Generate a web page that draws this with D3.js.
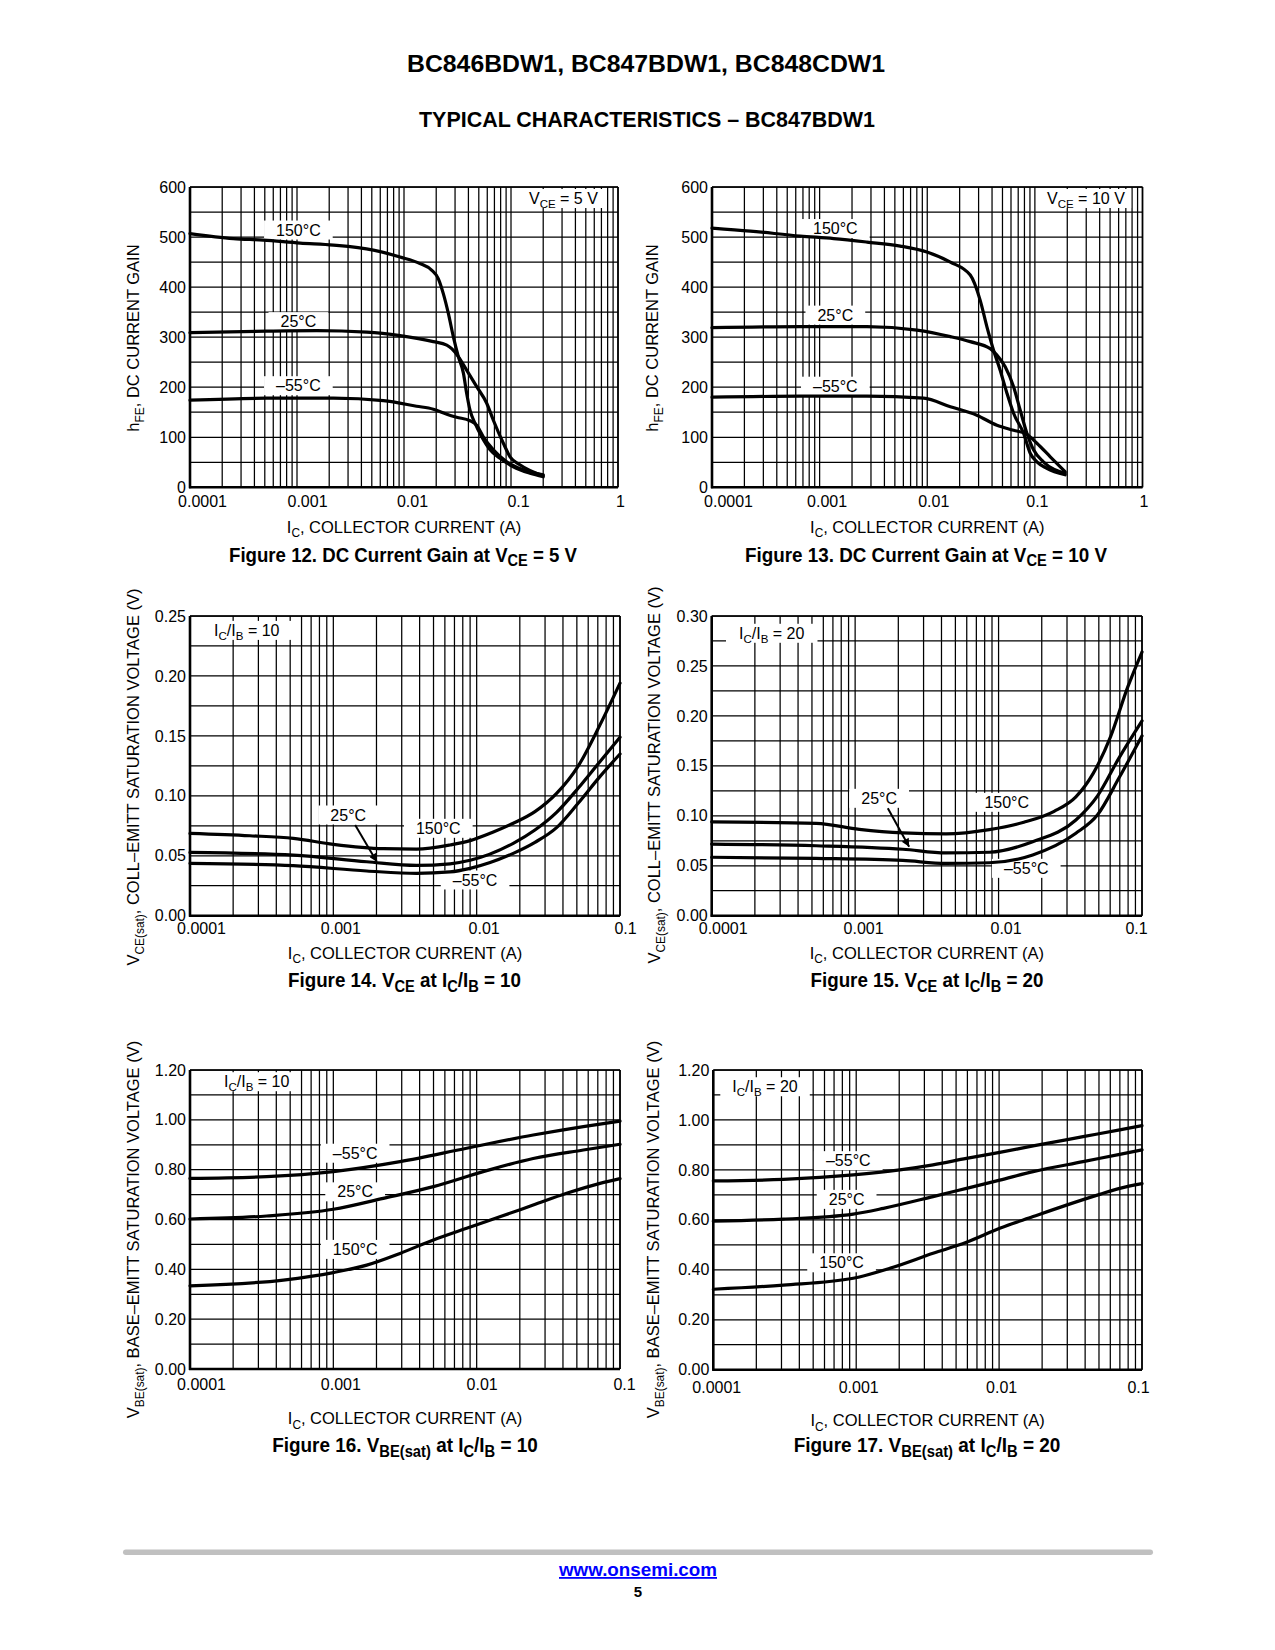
<!DOCTYPE html>
<html><head><meta charset="utf-8">
<script src="https://cdn.jsdelivr.net/npm/d3@7/dist/d3.min.js"></script>
<style>
html,body{margin:0;padding:0;background:#fff;}
svg{display:block;}
text{font-family:"Liberation Sans",Arial,Helvetica,sans-serif;fill:#000;}
</style></head><body>
<svg id="page" width="1275" height="1650"></svg>
<script>
// ---------------- DATA ----------------
const icTicks4 = [1e-4, 1e-3, 1e-2, 1e-1, 1];
const icTicks3 = [1e-4, 1e-3, 1e-2, 1e-1];
const icTickLabels = ["0.0001", "0.001", "0.01", "0.1", "1"];
const hfeTicks = [0, 100, 200, 300, 400, 500, 600];
const hfeTickLabels = ["0", "100", "200", "300", "400", "500", "600"];
const vce10Ticks = [0, 0.05, 0.10, 0.15, 0.20, 0.25];
const vce10TickLabels = ["0.00", "0.05", "0.10", "0.15", "0.20", "0.25"];
const vce20Ticks = [0, 0.05, 0.10, 0.15, 0.20, 0.25, 0.30];
const vce20TickLabels = ["0.00", "0.05", "0.10", "0.15", "0.20", "0.25", "0.30"];
const vbeTicks = [0, 0.2, 0.4, 0.6, 0.8, 1.0, 1.2];
const vbeTickLabels = ["0.00", "0.20", "0.40", "0.60", "0.80", "1.00", "1.20"];
const tempLabels = ["150°C", "25°C", "–55°C"];

// Figure 12: hFE vs IC, VCE = 5 V   [IC (A), hFE]
const hfe5_150 = [[1e-4,507],[2.54e-4,497],[4.84e-4,494],[1.07e-3,488],[2.19e-3,484],[5.17e-3,474],[9.18e-3,460],[1.41e-2,447],[1.81e-2,434],[2.09e-2,417],[2.33e-2,387],[2.6e-2,347],[2.89e-2,301],[3.22e-2,261],[3.59e-2,228],[3.85e-2,188],[4.14e-2,154],[4.61e-2,128],[5.32e-2,101],[6.37e-2,75],[7.89e-2,58],[0.105,41],[0.151,28],[0.2,21]];
const hfe5_25 = [[1e-4,309],[5.21e-4,312],[1.53e-3,313],[4.48e-3,310],[9.18e-3,303],[1.88e-2,291],[2.51e-2,284],[2.79e-2,277],[3.22e-2,261],[3.85e-2,234],[4.78e-2,201],[5.93e-2,168],[6.84e-2,134],[8.48e-2,88],[9.8e-2,61],[0.121,45],[0.2,23]];
const hfe5_m55 = [[1e-4,174],[5.21e-4,178],[2.19e-3,178],[6.41e-3,173],[1.31e-2,162],[1.88e-2,156],[2.51e-2,146],[3.1e-2,140],[4.14e-2,133],[4.78e-2,124],[5.51e-2,101],[6.84e-2,75],[9.12e-2,51],[0.13,35],[0.2,25]];

// Figure 13: hFE vs IC, VCE = 10 V
const hfe10_150 = [[1e-4,518],[2.27e-4,512],[6.6e-4,502],[1.35e-3,497],[2.75e-3,490],[5.61e-3,482],[9.93e-3,470],[1.64e-2,450],[2.51e-2,424],[3.1e-2,374],[3.58e-2,321],[4.13e-2,274],[4.76e-2,234],[5.5e-2,188],[6.34e-2,148],[7.85e-2,108],[9.05e-2,68],[0.1044,51],[0.129,38],[0.191,25]];
const hfe10_25 = [[1e-4,319],[6.6e-4,321],[2.75e-3,321],[8.02e-3,314],[1.64e-2,301],[2.51e-2,291],[3.85e-2,277],[4.44e-2,264],[5.3e-2,241],[6.34e-2,201],[7.31e-2,154],[8.43e-2,108],[9.72e-2,75],[0.12,51],[0.191,28]];
const hfe10_m55 = [[1e-4,180],[6.6e-4,182],[2.75e-3,182],[9.25e-3,178],[1.64e-2,161],[2.89e-2,144],[4.44e-2,124],[6.34e-2,114],[8.43e-2,106],[0.1044,88],[0.139,61],[0.191,31]];

// Figure 14: VCE(sat) vs IC, IC/IB = 10
const vce10_150 = [[1e-4,0.0687],[2.62e-4,0.0667],[5.26e-4,0.0645],[1e-3,0.0595],[2.23e-3,0.0559],[3.81e-3,0.0556],[6.52e-3,0.059],[9e-3,0.0626],[1.27e-2,0.0692],[1.8e-2,0.0771],[2.55e-2,0.0868],[3.61e-2,0.102],[5.12e-2,0.125],[7.24e-2,0.159],[0.1,0.194]];
const vce10_25 = [[1e-4,0.0528],[5.26e-4,0.0506],[1.71e-3,0.045],[3.81e-3,0.042],[6.52e-3,0.0433],[9e-3,0.0462],[1.8e-2,0.0604],[2.55e-2,0.0715],[3.61e-2,0.0862],[5.12e-2,0.1065],[7.24e-2,0.1285],[0.1,0.1488]];
const vce10_m55 = [[1e-4,0.0437],[5.26e-4,0.0417],[1.71e-3,0.0373],[3.81e-3,0.0353],[6.52e-3,0.0365],[9e-3,0.0395],[1.8e-2,0.052],[2.55e-2,0.0612],[3.61e-2,0.0735],[5.12e-2,0.094],[7.24e-2,0.116],[0.1,0.1349]];

// Figure 15: VCE(sat) vs IC, IC/IB = 20
const vce20_150 = [[1e-4,0.094],[5.35e-4,0.0925],[1.07e-3,0.0865],[2.15e-3,0.083],[4.3e-3,0.082],[8.63e-3,0.0862],[1.5e-2,0.0935],[2.44e-2,0.1045],[3.46e-2,0.119],[4.57e-2,0.1425],[6.03e-2,0.179],[7.96e-2,0.229],[0.1,0.264]];
const vce20_25 = [[1e-4,0.0717],[5.35e-4,0.070],[2.15e-3,0.0665],[4.3e-3,0.0628],[8.63e-3,0.0635],[1.73e-2,0.074],[3.46e-2,0.0958],[4.9e-2,0.12],[6.92e-2,0.158],[0.1,0.195]];
const vce20_m55 = [[1e-4,0.0585],[5.35e-4,0.0574],[2.15e-3,0.0553],[4.3e-3,0.0524],[8.63e-3,0.053],[1.73e-2,0.0608],[3.46e-2,0.0825],[4.9e-2,0.101],[6.92e-2,0.138],[0.1,0.18]];

// Figure 16: VBE(sat) vs IC, IC/IB = 10
const vbe10_m55 = [[1e-4,0.765],[3.43e-4,0.772],[1e-3,0.792],[2.92e-3,0.832],[8.51e-3,0.886],[2.48e-2,0.939],[5.55e-2,0.973],[0.1,0.995]];
const vbe10_25 = [[1e-4,0.602],[3.43e-4,0.614],[1e-3,0.641],[2.23e-3,0.685],[4.99e-3,0.732],[1.11e-2,0.792],[2.48e-2,0.845],[5.55e-2,0.879],[0.1,0.902]];
const vbe10_150 = [[1e-4,0.334],[4.48e-4,0.357],[1e-3,0.387],[1.71e-3,0.417],[2.92e-3,0.464],[4.99e-3,0.518],[8.51e-3,0.565],[1.45e-2,0.611],[2.48e-2,0.658],[4.24e-2,0.705],[7.25e-2,0.745],[0.1,0.764]];

// Figure 17: VBE(sat) vs IC, IC/IB = 20
const vbe20_m55 = [[1e-4,0.756],[3.09e-4,0.762],[9.53e-4,0.78],[2.02e-3,0.80],[3.45e-3,0.82],[5.91e-3,0.846],[1.01e-2,0.87],[1.73e-2,0.896],[3.87e-2,0.933],[6.98e-2,0.96],[0.1,0.977]];
const vbe20_25 = [[1e-4,0.595],[3.09e-4,0.603],[9.53e-4,0.623],[1.55e-3,0.646],[3.45e-3,0.693],[5.91e-3,0.726],[1.01e-2,0.759],[1.73e-2,0.793],[3.87e-2,0.833],[6.98e-2,0.862],[0.1,0.88]];
const vbe20_150 = [[1e-4,0.322],[3.09e-4,0.339],[9.53e-4,0.366],[1.72e-3,0.406],[3.45e-3,0.466],[5.91e-3,0.51],[1.01e-2,0.566],[1.73e-2,0.613],[2.96e-2,0.659],[5.06e-2,0.702],[6.98e-2,0.726],[0.1,0.745]];

// ---------------- LAYOUT ----------------
const SUB = true;
const xTitleParts = [["I"],["C",SUB],[", COLLECTOR CURRENT (A)"]];
const figs = [
  { x0:190, x1:618, y0:187, y1:487.3, xmax:1, ymax:600, step:50,
    yTicks:hfeTicks, yLabels:hfeTickLabels, xTicks:icTicks4, xdx:[12,10,8,7,2], xBase:19.5,
    series:[hfe5_150, hfe5_25, hfe5_m55],
    labels:[[1.03e-3,514,0],[1.03e-3,331,1],[1.03e-3,203,2]],
    cond:{x:0.309, y:577, parts:[["V"],["CE",SUB],[" = 5 V"]], pad:6},
    yTitle:[["h"],["FE",SUB],[", DC CURRENT GAIN"]], yTitleX:139.3, yTitleY:338,
    xTitleY:532.5,
    caption:[["Figure 12. DC Current Gain at V"],["CE",SUB],[" = 5 V"]], capX:403, capY:561.5, capW:348 },
  { x0:712, x1:1142.5, y0:187, y1:487.3, xmax:1, ymax:600, step:50,
    yTicks:hfeTicks, yLabels:hfeTickLabels, xTicks:icTicks4, xdx:[16,7,6,2,1], xBase:19.5,
    series:[hfe10_150, hfe10_25, hfe10_m55],
    labels:[[1.4e-3,517,0],[1.4e-3,344,1],[1.4e-3,202,2]],
    cond:{x:0.298, y:577, parts:[["V"],["CE",SUB],[" = 10 V"]], pad:6},
    yTitle:[["h"],["FE",SUB],[", DC CURRENT GAIN"]], yTitleX:658.3, yTitleY:338,
    xTitleY:532.5,
    caption:[["Figure 13. DC Current Gain at V"],["CE",SUB],[" = 10 V"]], capX:926, capY:561.5, capW:362 },
  { x0:190, x1:620, y0:616, y1:915.7, xmax:0.1, ymax:0.25, step:0.025,
    yTicks:vce10Ticks, yLabels:vce10TickLabels, xTicks:icTicks3, xdx:[11,7,7,5], xBase:18.8,
    series:[vce10_150, vce10_25, vce10_m55],
    labels:[[5.4e-3,0.0729,0],[1.27e-3,0.084,1],[9.75e-3,0.0298,2]],
    arrow:[[1.42e-3,0.0756],[2.01e-3,0.045]],
    cond:{x:2.49e-4, y:0.238, parts:[["I"],["C",SUB],["/I"],["B",SUB],[" = 10"]], pad:13},
    yTitle:[["V"],["CE(sat)",SUB],[", COLL–EMITT SATURATION VOLTAGE (V)"]], yTitleX:139.3, yTitleY:777,
    xTitleY:958.7,
    caption:[["Figure 14. V"],["CE",SUB],[" at I"],["C",SUB],["/I"],["B",SUB],[" = 10"]], capX:404.5, capY:987, capW:233 },
  { x0:711.7, x1:1142, y0:616, y1:915.7, xmax:0.1, ymax:0.30, step:0.025,
    yTicks:vce20Ticks, yLabels:vce20TickLabels, xTicks:icTicks3, xdx:[11,8,7,-6], xBase:17.9,
    series:[vce20_150, vce20_25, vce20_m55],
    labels:[[1.14e-2,0.1135,0],[1.47e-3,0.1175,1],[1.56e-2,0.0474,2]],
    arrow:[[1.69e-3,0.1075],[2.38e-3,0.069]],
    cond:{x:2.62e-4, y:0.2827, parts:[["I"],["C",SUB],["/I"],["B",SUB],[" = 20"]], pad:13},
    yTitle:[["V"],["CE(sat)",SUB],[", COLL–EMITT SATURATION VOLTAGE (V)"]], yTitleX:660, yTitleY:775,
    xTitleY:958.7,
    caption:[["Figure 15. V"],["CE",SUB],[" at I"],["C",SUB],["/I"],["B",SUB],[" = 20"]], capX:927, capY:987, capW:233 },
  { x0:190, x1:620, y0:1070, y1:1369, xmax:0.1, ymax:1.2, step:0.1,
    yTicks:vbeTicks, yLabels:vbeTickLabels, xTicks:icTicks3, xdx:[11,7,5,4], xBase:21.3,
    series:[vbe10_150, vbe10_25, vbe10_m55],
    labels:[[1.42e-3,0.48,0],[1.42e-3,0.711,1],[1.42e-3,0.866,2]],
    cond:{x:2.92e-4, y:1.153, parts:[["I"],["C",SUB],["/I"],["B",SUB],[" = 10"]], pad:4},
    yTitle:[["V"],["BE(sat)",SUB],[", BASE–EMITT SATURATION VOLTAGE (V)"]], yTitleX:139.3, yTitleY:1229.5,
    xTitleY:1424,
    caption:[["Figure 16. V"],["BE(sat)",SUB],[" at I"],["C",SUB],["/I"],["B",SUB],[" = 10"]], capX:405, capY:1452, capW:265.6 },
  { x0:713.3, x1:1142, y0:1070, y1:1369.7, xmax:0.1, ymax:1.2, step:0.1,
    yTicks:vbeTicks, yLabels:vbeTickLabels, xTicks:icTicks3, xdx:[3,2,2,-4], xBase:23.8,
    series:[vbe20_150, vbe20_25, vbe20_m55],
    labels:[[7.9e-4,0.428,0],[8.57e-4,0.682,1],[8.8e-4,0.837,2]],
    cond:{x:2.3e-4, y:1.133, parts:[["I"],["C",SUB],["/I"],["B",SUB],[" = 20"]], pad:12},
    yTitle:[["V"],["BE(sat)",SUB],[", BASE–EMITT SATURATION VOLTAGE (V)"]], yTitleX:659.3, yTitleY:1229.5,
    xTitleY:1426,
    caption:[["Figure 17. V"],["BE(sat)",SUB],[" at I"],["C",SUB],["/I"],["B",SUB],[" = 20"]], capX:927, capY:1452, capW:266.7 }
];

// ---------------- DRAW ----------------
const svg = d3.select("#page");
svg.append("rect").attr("width",1275).attr("height",1650).attr("fill","#fff");
svg.append("defs").append("marker")
  .attr("id","arr").attr("viewBox","0 0 10 10").attr("refX",10).attr("refY",5)
  .attr("markerWidth",11).attr("markerHeight",8).attr("markerUnits","userSpaceOnUse").attr("orient","auto")
  .append("path").attr("d","M0,0 L10,5 L0,10 Z").attr("fill","#000");

function rich(sel, parts, size, subScale, subShift, weight) {
  let shifted = 0;
  parts.forEach(p => {
    const t = sel.append("tspan").text(p[0]);
    if (weight) t.attr("font-weight", weight);
    if (p[1]) {
      t.attr("font-size", size * subScale);
      if (!shifted) { t.attr("dy", subShift); shifted = subShift; }
    } else {
      t.attr("font-size", size);
      if (shifted) { t.attr("dy", -shifted); shifted = 0; }
    }
  });
  return sel;
}

// Page titles
svg.append("text").attr("x",646).attr("y",72.3).attr("text-anchor","middle")
  .attr("font-size",24).attr("font-weight","bold")
  .attr("textLength",478).attr("lengthAdjust","spacingAndGlyphs")
  .text("BC846BDW1, BC847BDW1, BC848CDW1");
svg.append("text").attr("x",647).attr("y",127).attr("text-anchor","middle")
  .attr("font-size",22).attr("font-weight","bold")
  .attr("textLength",456).attr("lengthAdjust","spacingAndGlyphs")
  .text("TYPICAL CHARACTERISTICS – BC847BDW1");

figs.forEach(f => {
  const x = d3.scaleLog().domain([1e-4, f.xmax]).range([f.x0, f.x1]);
  const y = d3.scaleLinear().domain([0, f.ymax]).range([f.y1, f.y0]);
  const g = svg.append("g");

  // grid
  const grid = g.append("g").attr("stroke","#000").attr("stroke-width",1.25).attr("fill","none");
  grid.selectAll("line.v").data(x.ticks()).join("line").attr("class","v")
    .attr("x1", d => x(d)).attr("x2", d => x(d)).attr("y1", f.y0).attr("y2", f.y1);
  const nH = Math.round(f.ymax / f.step);
  grid.selectAll("line.h").data(d3.range(0, nH + 1).map(i => i * f.step)).join("line").attr("class","h")
    .attr("x1", f.x0).attr("x2", f.x1).attr("y1", d => y(d)).attr("y2", d => y(d));

  const boxG = g.append("g");
  const curveG = g.append("g");
  const textG = g.append("g");

  const addLabel = (cx, cy, parts, size, pad) => {
    const t = textG.append("text").attr("x", cx).attr("y", cy).attr("dy","0.35em")
      .attr("text-anchor","middle");
    rich(t, parts, size, 0.72, 4);
    const bb = t.node().getBBox();
    boxG.append("rect").attr("x", bb.x - pad).attr("y", cy - 9.5)
      .attr("width", bb.width + 2 * pad).attr("height", 19).attr("fill","#fff");
  };
  f.labels.forEach(l => addLabel(x(l[0]), y(l[1]), [[tempLabels[l[2]]]], 16, 12));
  addLabel(x(f.cond.x), y(f.cond.y), f.cond.parts, 16, f.cond.pad);

  // curves
  const line = d3.line().x(d => x(d[0])).y(d => y(d[1])).curve(d3.curveMonotoneX);
  curveG.selectAll("path").data(f.series).join("path")
    .attr("d", line).attr("fill","none").attr("stroke","#000")
    .attr("stroke-width",3.2).attr("stroke-linejoin","round").attr("stroke-linecap","round");

  if (f.arrow) {
    curveG.append("line")
      .attr("x1", x(f.arrow[0][0])).attr("y1", y(f.arrow[0][1]))
      .attr("x2", x(f.arrow[1][0])).attr("y2", y(f.arrow[1][1]))
      .attr("stroke","#000").attr("stroke-width",2).attr("marker-end","url(#arr)");
  }

  // frame
  const fr = g.append("g").attr("stroke","#000").attr("fill","none");
  fr.append("line").attr("x1",f.x0).attr("x2",f.x1).attr("y1",f.y0).attr("y2",f.y0).attr("stroke-width",1.6);
  fr.append("line").attr("x1",f.x1).attr("x2",f.x1).attr("y1",f.y0).attr("y2",f.y1).attr("stroke-width",1.6);
  fr.append("line").attr("x1",f.x0).attr("x2",f.x0).attr("y1",f.y0).attr("y2",f.y1+1).attr("stroke-width",2.6);
  fr.append("line").attr("x1",f.x0-1).attr("x2",f.x1).attr("y1",f.y1).attr("y2",f.y1).attr("stroke-width",2.6);

  // y axis labels
  const ya = g.append("g").attr("transform",`translate(${f.x0},0)`)
    .call(d3.axisLeft(y).tickValues(f.yTicks).tickFormat((d,i) => f.yLabels[i]).tickSize(0).tickPadding(4));
  ya.select(".domain").remove();
  ya.attr("font-size",16).attr("font-family",null);
  ya.selectAll("text").attr("fill","#000");

  // x axis labels
  const xa = g.append("g").attr("transform",`translate(0,${f.y1})`)
    .call(d3.axisBottom(x).tickValues(f.xTicks).tickFormat((d,i) => icTickLabels[i]).tickSize(0));
  xa.select(".domain").remove();
  xa.attr("font-size",16).attr("font-family",null);
  xa.selectAll("text").attr("fill","#000").attr("dy",null).attr("y", f.xBase).attr("dx",(d,i) => f.xdx[i]);

  // axis titles
  const xt = g.append("text").attr("x",(f.x0 + f.x1) / 2).attr("y", f.xTitleY).attr("text-anchor","middle");
  rich(xt, xTitleParts, 16.5, 0.72, 4.5);
  const yt = g.append("text").attr("text-anchor","middle")
    .attr("transform",`translate(${f.yTitleX},${f.yTitleY}) rotate(-90)`);
  rich(yt, f.yTitle, 16.5, 0.72, 4.5);

  // caption
  const cap = g.append("text").attr("x", f.capX).attr("y", f.capY).attr("text-anchor","middle")
    .attr("font-weight","bold").attr("font-size",20.5)
    .attr("textLength", f.capW).attr("lengthAdjust","spacingAndGlyphs");
  rich(cap, f.caption, 20.5, 0.78, 4.5, "bold");
});

// footer
svg.append("rect").attr("x",123).attr("y",1549.5).attr("width",1030).attr("height",5.5)
  .attr("rx",2.75).attr("fill","#c0c0c0");
svg.append("text").attr("x",638).attr("y",1576).attr("text-anchor","middle")
  .attr("font-size",18).attr("font-weight","bold").style("fill","#0000ff")
  .attr("text-decoration","underline")
  .attr("textLength",158).attr("lengthAdjust","spacingAndGlyphs")
  .text("www.onsemi.com");
svg.append("text").attr("x",638).attr("y",1597).attr("text-anchor","middle")
  .attr("font-size",15).attr("font-weight","bold").text("5");
</script>
</body></html>
